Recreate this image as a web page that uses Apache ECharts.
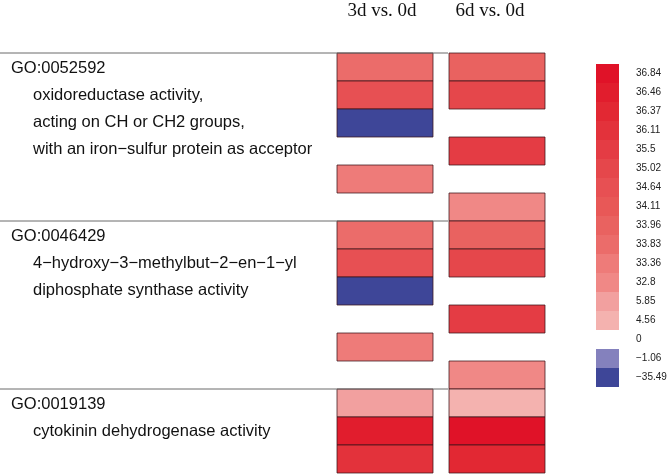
<!DOCTYPE html>
<html>
<head>
<meta charset="utf-8">
<script src="https://cdn.jsdelivr.net/npm/echarts@6/dist/echarts.min.js"></script>
<style>
html,body{margin:0;padding:0;background:#fff;}
#chart{width:668px;height:475px;}
</style>
</head>
<body>
<div id="chart"></div>
<script>
// ---- data ----
const columns = ['3d vs. 0d', '6d vs. 0d'];
const rowIds = ['r1','r2','r3','r4','r5','r6','r7','r8','r9','r10','r11','r12','r13','r14','r15'];
const values3d = [33.83, 34.64, -35.49, null, 33.36, null, 33.83, 34.64, -35.49, null, 33.36, null, 5.85, 36.46, 36.11];
const values6d = [33.96, 35.02, null, 35.5, null, 32.8, 33.96, 35.02, null, 35.5, null, 32.8, 4.56, 36.84, 36.37];
const legendValues = [36.84, 36.46, 36.37, 36.11, 35.5, 35.02, 34.64, 34.11, 33.96, 33.83, 33.36, 32.8, 5.85, 4.56, 0, -1.06, -35.49];
const goIds = ['GO:0052592', 'GO:0046429', 'GO:0019139'];
const goDescriptions = [
  ['oxidoreductase activity,', 'acting on CH or CH2 groups,', 'with an iron\u2212sulfur protein as acceptor'],
  ['4\u2212hydroxy\u22123\u2212methylbut\u22122\u2212en\u22121\u2212yl', 'diphosphate synthase activity'],
  ['cytokinin dehydrogenase activity']
];
const groupStartRows = [0, 6, 12];

// ---- styles ----
const legendColors = ['#E01228','#E11D2D','#E22833','#E3323B','#E43C44','#E5474B','#E75053','#E85857',
  '#E96260','#EB6C6A','#EE7B79','#F08886','#F2A09F','#F4B2AF','#FFFFFF','#8481BD','#3E4698'];

function fmt(v){ return v < 0 ? '\u2212' + String(-v) : String(v); }

const cellData = [];
[values3d, values6d].forEach((arr, ci) => {
  arr.forEach((v, ri) => { if (v !== null) cellData.push([ci, ri, v]); });
});

const chart = echarts.init(document.getElementById('chart'));

const gridTop = 53, gridHeight = 420, rowH = gridHeight / rowIds.length;
const textFont = '16.5px "Liberation Sans", Arial, sans-serif';
const serif = '"Liberation Serif", "Times New Roman", serif';
const graphics = [];
groupStartRows.forEach((r, gi) => {
  const y = gridTop + r * rowH;
  graphics.push({type:'line', z:100, shape:{x1:0, y1:y, x2:448, y2:y}, style:{stroke:'#6a6a6a', lineWidth:1}});
  graphics.push({type:'text', z:100, x:11, y:y + 15, style:{text:goIds[gi], font:textFont, fill:'#111', verticalAlign:'middle'}});
  goDescriptions[gi].forEach((t, li) => {
    graphics.push({type:'text', z:100, x:33, y:y + 15 + 27 * (li + 1), style:{text:t, font:textFont, fill:'#111', verticalAlign:'middle'}});
  });
});

chart.setOption({
  animation: false,
  backgroundColor: '#fff',
  grid: {left: 329, width: 224, top: gridTop, height: gridHeight},
  xAxis: {
    type: 'category', data: columns, position: 'top',
    axisLine: {show: false}, axisTick: {show: false}, splitLine: {show: false},
    axisLabel: {
      interval: 0, hideOverlap: false,
      margin: 32, fontFamily: serif, fontSize: 19, color: '#111',
      formatter: function (v, i) { return '{c' + i + '|' + v + '}'; },
      rich: {
        c0: {fontFamily: serif, fontSize: 19, color: '#111', padding: [0, 6, 0, 0]},
        c1: {fontFamily: serif, fontSize: 19, color: '#111', padding: [0, 14, 0, 0]}
      }
    }
  },
  yAxis: {
    type: 'category', data: rowIds, inverse: true, show: false
  },
  visualMap: {
    type: 'piecewise', seriesIndex: 0, dimension: 2,
    orient: 'vertical', left: 596, top: 64, padding: 0, align: 'left',
    itemWidth: 23, itemHeight: 19, itemGap: 0, textGap: 17,
    itemSymbol: 'rect', selectedMode: false, hoverLink: false,
    textStyle: {fontSize: 10, color: '#222', fontFamily: '"Liberation Sans", Arial, sans-serif'},
    pieces: legendValues.map((v, i) => ({value: v, label: fmt(v), color: legendColors[i]}))
  },
  series: [{
    type: 'custom',
    data: cellData,
    encode: {x: 0, y: 1},
    renderItem: function (params, api) {
      const c = api.coord([api.value(0), api.value(1)]);
      const s = api.size([1, 1]);
      const w = s[0] - 16;
      return {
        type: 'rect',
        shape: {x: c[0] - w / 2, y: c[1] - s[1] / 2, width: w, height: s[1]},
        style: {fill: api.visual('color'), stroke: 'rgba(60,20,25,0.75)', lineWidth: 1}
      };
    }
  }],
  graphic: graphics
});
</script>
</body>
</html>
